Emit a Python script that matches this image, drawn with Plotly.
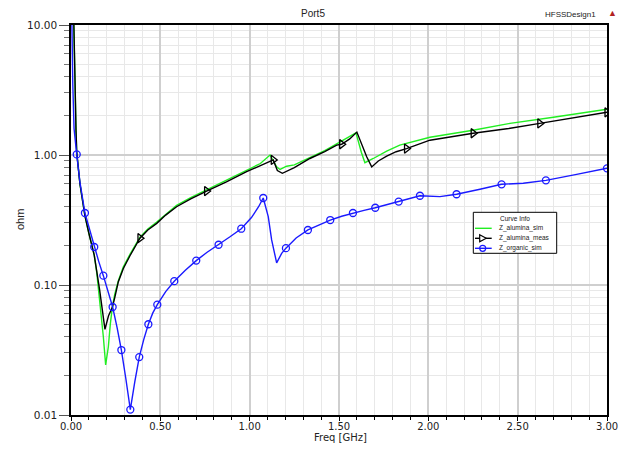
import numpy as np
import plotly.graph_objects as go

# ---------------- data ----------------
freq_organic = [0.002, 0.004, 0.010, 0.017, 0.025, 0.032, 0.050, 0.078, 0.105, 0.130, 0.155, 0.181,
                0.207, 0.233, 0.258, 0.282, 0.307, 0.332, 0.357, 0.382, 0.407, 0.433, 0.458, 0.483,
                0.530, 0.578, 0.640, 0.701, 0.760, 0.826, 0.890, 0.953, 1.010, 1.050, 1.076, 1.104,
                1.123, 1.151, 1.179, 1.203, 1.260, 1.326, 1.390, 1.451, 1.515, 1.578, 1.640, 1.703,
                1.770, 1.834, 1.890, 1.953, 2.065, 2.158, 2.289, 2.410, 2.531, 2.658, 2.830, 3.000]
z_organic = [20.0, 10.0, 3.5, 1.6, 1.2, 1.01, 0.62, 0.358, 0.265, 0.196, 0.152, 0.118,
             0.090, 0.0677, 0.047, 0.0316, 0.019, 0.011, 0.018, 0.0279, 0.038, 0.0499, 0.061, 0.0706,
             0.089, 0.107, 0.130, 0.154, 0.178, 0.204, 0.235, 0.271, 0.330, 0.400, 0.467, 0.336,
             0.222, 0.148, 0.175, 0.192, 0.230, 0.265, 0.290, 0.316, 0.338, 0.358, 0.375, 0.393,
             0.415, 0.438, 0.462, 0.486, 0.478, 0.499, 0.545, 0.595, 0.607, 0.638, 0.710, 0.790]
marker_freq_organic = [0.032, 0.078, 0.130, 0.181, 0.233, 0.282, 0.332, 0.382, 0.433, 0.483, 0.578,
                       0.701, 0.826, 0.953, 1.076, 1.203, 1.326, 1.451, 1.578, 1.703, 1.834, 1.953,
                       2.158, 2.410, 2.658, 3.000]

freq_meas = [0.014, 0.017, 0.022, 0.028, 0.032, 0.050, 0.078, 0.100, 0.130, 0.160, 0.190, 0.210,
             0.231, 0.245, 0.265, 0.293, 0.330, 0.386, 0.430, 0.480, 0.530, 0.591, 0.670, 0.759,
             0.870, 0.983, 1.060, 1.132, 1.155, 1.183, 1.250, 1.337, 1.420, 1.487, 1.515, 1.560,
             1.600, 1.617, 1.655, 1.683, 1.720, 1.767, 1.820, 1.878, 2.009, 2.251, 2.450, 2.624,
             2.800, 3.000]
z_meas = [14.0, 10.0, 4.0, 1.55, 1.05, 0.60, 0.34, 0.25, 0.170, 0.092, 0.0456, 0.058,
          0.067, 0.080, 0.106, 0.134, 0.168, 0.229, 0.265, 0.298, 0.345, 0.400, 0.460, 0.528,
          0.620, 0.744, 0.830, 0.916, 0.760, 0.723, 0.800, 0.940, 1.060, 1.190, 1.210, 1.330,
          1.500, 1.300, 0.970, 0.810, 0.900, 0.980, 1.060, 1.120, 1.300, 1.470, 1.600, 1.750,
          1.920, 2.130]
marker_freq_meas = [0.386, 0.759, 1.132, 1.515, 1.878, 2.251, 2.624, 3.000]

freq_alumina = [0.013, 0.016, 0.022, 0.028, 0.032, 0.050, 0.078, 0.100, 0.130, 0.144, 0.162, 0.181,
                0.194, 0.209, 0.220, 0.231, 0.245, 0.265, 0.293, 0.330, 0.386, 0.430, 0.480, 0.530,
                0.591, 0.670, 0.759, 0.870, 0.983, 1.060, 1.114, 1.151, 1.170, 1.207, 1.250, 1.337,
                1.420, 1.487, 1.560, 1.595, 1.625, 1.645, 1.692, 1.767, 1.840, 1.953, 2.009, 2.250,
                2.457, 2.700, 3.000]
z_alumina = [14.0, 10.0, 4.0, 1.55, 1.05, 0.60, 0.34, 0.25, 0.170, 0.125, 0.075, 0.040,
             0.0243, 0.0335, 0.050, 0.067, 0.085, 0.108, 0.138, 0.172, 0.233, 0.270, 0.305, 0.350,
             0.410, 0.470, 0.540, 0.635, 0.760, 0.860, 1.000, 0.810, 0.774, 0.820, 0.840, 0.960,
             1.080, 1.220, 1.380, 1.480, 1.050, 0.873, 0.940, 1.070, 1.190, 1.300, 1.370, 1.550,
             1.750, 1.950, 2.250]

x_tickvals = [0.0, 0.5, 1.0, 1.5, 2.0, 2.5, 3.0]
x_ticktext = ["0.00", "0.50", "1.00", "1.50", "2.00", "2.50", "3.00"]
y_tickvals = [0.01, 0.1, 1.0, 10.0]
y_ticktext = ["0.01", "0.10", "1.00", "10.00"]

series_names = ["Z_alumina_sim", "Z_alumina_meas", "Z_organic_sim"]

# ---------------- styles / layout geometry ----------------
GREEN = "#22ee22"
BLACK = "#000000"
BLUE = "#1a1aff"
FONT = "Liberation Sans, Arial, sans-serif"
TICKFONT = "DejaVu Sans, sans-serif"
W, H = 617, 435
ML, MR, MT, MB = 63, 18, 17, 28
PW, PH = W - ML - MR, H - MT - MB


def px(xpix):   # figure pixel -> paper x
    return (xpix - ML) / PW


def py(ypix):   # figure pixel -> paper y
    return (H - MB - ypix) / PH


fig = go.Figure()


def add_series(name, fx, fy, color, marker_freqs=None, symbol=None, msize=7):
    fx = np.array(fx)
    fy = np.array(fy)
    fig.add_trace(go.Scatter(x=fx, y=fy, mode="lines", line=dict(color=color, width=1.4),
                             showlegend=False, name=name))
    if marker_freqs is not None:
        sel = np.isin(fx, np.array(marker_freqs))
        fig.add_trace(go.Scatter(x=fx[sel], y=fy[sel], mode="markers",
                                 marker=dict(symbol=symbol, size=msize, color=color,
                                             line=dict(color=color, width=1.3)),
                                 showlegend=False, name=name))


add_series(series_names[0], freq_alumina, z_alumina, GREEN)
add_series(series_names[1], freq_meas, z_meas, BLACK, marker_freq_meas, "triangle-right-open", 8)
add_series(series_names[2], freq_organic, z_organic, BLUE, marker_freq_organic, "circle-open", 7)

fig.update_xaxes(
    range=[0, 3], tickmode="array", tickvals=x_tickvals, ticktext=x_ticktext,
    showline=True, linecolor="black", linewidth=1.5, mirror=True,
    ticks="outside", ticklen=4, tickcolor="black", ticklabelstandoff=-3,
    showgrid=True, gridcolor="#cfcfcf", gridwidth=1.5, zeroline=False,
    tickfont=dict(family=TICKFONT, size=10, color="#222"),
    minor=dict(dtick=0.1, tick0=0, showgrid=True, gridcolor="#e8e8e8", gridwidth=1,
               ticks="outside", ticklen=3, tickcolor="black"),
    automargin=False,
)
fig.update_yaxes(
    type="log", range=[-2, 1], tickmode="array", tickvals=y_tickvals, ticktext=y_ticktext,
    showline=True, linecolor="black", linewidth=1.5, mirror=True,
    ticks="outside", ticklen=10, tickcolor="#555",
    showgrid=True, gridcolor="#cfcfcf", gridwidth=1.5, zeroline=False,
    tickfont=dict(family=TICKFONT, size=10.5, color="#222"),
    minor=dict(dtick="D1", showgrid=True, gridcolor="#e8e8e8", gridwidth=1,
               ticks="outside", ticklen=5, tickcolor="#777"),
    automargin=False,
)

# ---------------- custom "Curve Info" legend box ----------------
shapes = []
annotations = []
box_x0, box_x1, box_y0, box_y1 = 465.3, 548.7, 204.3, 245.3
shapes.append(dict(type="rect", xref="paper", yref="paper", x0=px(box_x0), x1=px(box_x1),
                   y0=py(box_y1), y1=py(box_y0), line=dict(color="black", width=1),
                   fillcolor="white", layer="above"))
annotations.append(dict(text="Curve Info", xref="paper", yref="paper", x=px(507), y=py(210.3),
                        xanchor="center", yanchor="middle", showarrow=False,
                        font=dict(family=FONT, size=6.5, color="#222")))
row_y = [220.3, 230.3, 240.3]
row_col = [GREEN, BLACK, BLUE]
line_x0, line_x1, mark_x, text_x = 467.0, 483.7, 474.7, 488.7
for i, name in enumerate(series_names):
    y = row_y[i]
    shapes.append(dict(type="line", xref="paper", yref="paper", x0=px(line_x0), x1=px(line_x1),
                       y0=py(y), y1=py(y), line=dict(color=row_col[i], width=1.4), layer="above"))
    annotations.append(dict(text=name, xref="paper", yref="paper", x=px(text_x), y=py(y),
                            xanchor="left", yanchor="middle", showarrow=False,
                            font=dict(family=FONT, size=6.5, color="#222")))
# legend symbols
ty = row_y[1]
shapes.append(dict(type="path", xref="paper", yref="paper", layer="above",
                   path=f"M {px(mark_x-3)},{py(ty-3.5)} L {px(mark_x+3.5)},{py(ty)} "
                        f"L {px(mark_x-3)},{py(ty+3.5)} Z",
                   line=dict(color=BLACK, width=1.2), fillcolor="white"))
cy = row_y[2]
shapes.append(dict(type="circle", xref="paper", yref="paper", layer="above",
                   x0=px(mark_x-3), x1=px(mark_x+3), y0=py(cy+3), y1=py(cy-3),
                   line=dict(color=BLUE, width=1.2), fillcolor="rgba(0,0,0,0)"))

# texts around the plot
annotations += [
    dict(text="Freq [GHz]", xref="paper", yref="paper", x=px(332), y=py(429.5),
         xanchor="center", yanchor="middle", showarrow=False,
         font=dict(family=TICKFONT, size=10, color="#222")),
    dict(text="ohm", xref="paper", yref="paper", x=px(12), y=0.5, textangle=-90,
         xanchor="center", yanchor="middle", showarrow=False,
         font=dict(family=FONT, size=11, color="#222")),
    dict(text="HFSSDesign1", xref="paper", yref="paper", x=px(562), y=py(6),
         xanchor="center", yanchor="middle", showarrow=False,
         font=dict(family=FONT, size=8, color="#222")),
    dict(text="▲", xref="paper", yref="paper", x=px(604), y=py(5),
         xanchor="center", yanchor="middle", showarrow=False,
         font=dict(family=FONT, size=9, color="#b22222")),
]

fig.update_layout(
    width=W, height=H,
    margin=dict(l=ML, r=MR, t=MT, b=MB),
    paper_bgcolor="white", plot_bgcolor="white",
    title=dict(text="Port5", x=px(305), xref="paper", y=1 - 5 / H, yanchor="middle",
               xanchor="center", font=dict(family=FONT, size=10, color="#222")),
    shapes=shapes,
    annotations=annotations,
    showlegend=False,
)

fig.write_html("out.html")
